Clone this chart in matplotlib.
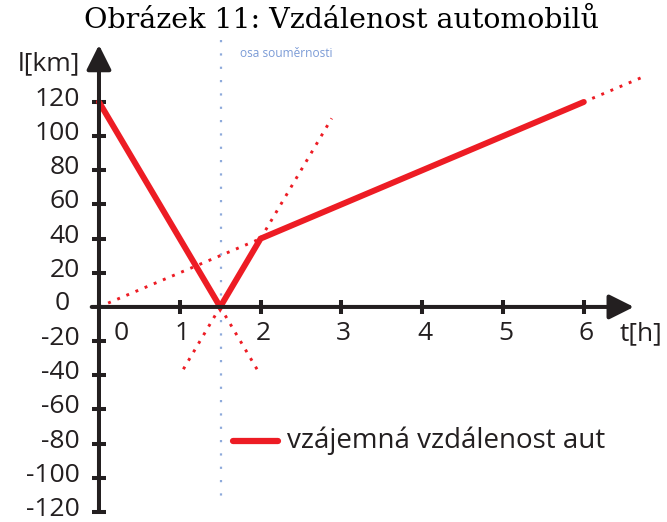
import matplotlib
matplotlib.use("Agg")
import matplotlib.pyplot as plt

# data
t_dist = [0, 1.5, 2, 6]
l_dist = [120, 0, 40, 120]

# dotted helper lines (continuations / mirror images)
guide_t = [[0, 6.75], [2, 2.88], [1.5, 1.03], [1.5, 1.97]]
guide_l = [[0, 135], [40, 110.4], [0, -37.6], [0, -37.6]]

sym_t = [1.51, 1.51]
sym_l = [156, -113]

x_ticks = [1, 2, 3, 4, 5, 6]
y_ticks = [-120, -100, -80, -60, -40, -20, 20, 40, 60, 80, 100, 120]
x_labels = ["1", "2", "3", "4", "5", "6"]

RED = "#ed1c24"
INK = "#231f20"
BLUE = "#8eaadb"
SANS = ["Open Sans", "DejaVu Sans"]

fig = plt.figure(figsize=(6.67, 5.22), dpi=100)
ax = fig.add_axes([0, 0, 1, 1])
ax.set_xlim(-1.225, 7.03)
ax.set_ylim(-125.9, 179.7)
ax.axis("off")

# axes with arrows
ax.annotate("", xy=(0, 153.4), xytext=(0, -120),
            arrowprops=dict(arrowstyle="-|>,head_length=1.0,head_width=0.5",
                            mutation_scale=15, color=INK, lw=2.9,
                            shrinkA=0, shrinkB=0))
ax.annotate("", xy=(6.62, 0), xytext=(-0.09, 0),
            arrowprops=dict(arrowstyle="-|>,head_length=1.0,head_width=0.5",
                            mutation_scale=15, color=INK, lw=2.9,
                            shrinkA=0, shrinkB=0))

# tick marks
ax.plot([0] * len(y_ticks), y_ticks, ls="none", marker="_", ms=9.5,
        mew=2.9, color=INK)
ax.plot(x_ticks, [0] * len(x_ticks), ls="none", marker="|", ms=9.5,
        mew=2.9, color=INK)

# tick labels
for v in y_ticks:
    ax.text(-0.235, v + 1.5, str(v), ha="right", va="center",
            fontsize=19, family=SANS, color=INK)
ax.text(-0.36, 2, "0", ha="right", va="center", fontsize=19, family=SANS, color=INK)
ax.text(0.27, -15.5, "0", ha="center", va="center", fontsize=19, family=SANS, color=INK)
for v, s in zip(x_ticks, x_labels):
    ax.text(v + 0.03, -15.5, s, ha="center", va="center", fontsize=19,
            family=SANS, color=INK)

ax.text(-0.235, 142.5, "l[km]", ha="right", va="center", fontsize=19,
        family=SANS, color=INK)
ax.text(6.71, -15.5, "t[h]", ha="center", va="center", fontsize=19,
        family=SANS, color=INK)

# symmetry axis
ax.plot(sym_t, sym_l, color=BLUE, lw=1.6, ls=(0, (1, 5)))
ax.text(1.745, 148.5, "osa souměrnosti", ha="left", va="center",
        fontsize=8.6, family=SANS, color="#7b9bd6")

# dotted guides
for gt, gl in zip(guide_t, guide_l):
    ax.plot(gt, gl, color=RED, lw=2.1, ls=(0, (1, 2.4)))

# main line
ax.plot(t_dist, l_dist, color=RED, lw=4.3, solid_joinstyle="miter",
        solid_capstyle="round")

# legend drawn by hand
ax.plot([1.66, 2.215], [-78.5, -78.5], color=RED, lw=4.5, solid_capstyle="round")
ax.text(2.327, -78.5, "vzájemná vzdálenost aut", ha="left", va="center",
        fontsize=20, family=SANS, color=INK)

fig.text(0.512, 0.96, "Obrázek 11: Vzdálenost automobilů", ha="center",
         va="center", fontsize=20.5, family=["DejaVu Serif"],
         color="black")

fig.savefig("out.png", dpi=100)
